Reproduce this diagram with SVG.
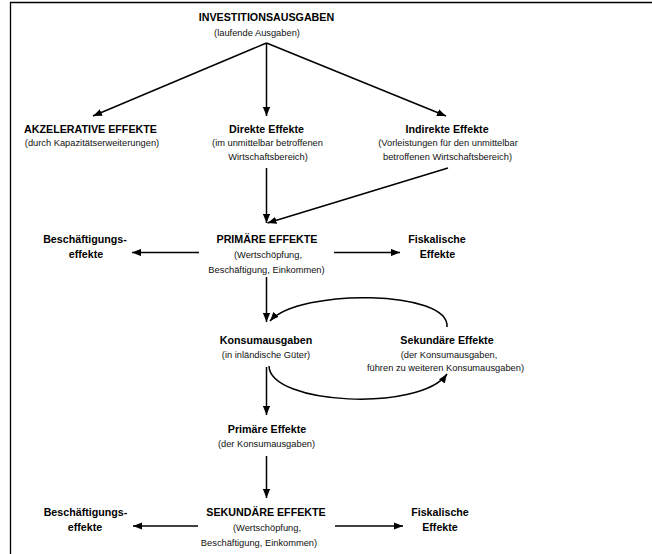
<svg xmlns="http://www.w3.org/2000/svg" width="652" height="554" viewBox="0 0 652 554">
<style>
text{font-family:"Liberation Sans",Arial,sans-serif;text-anchor:middle;fill:#000}
.b{font-weight:bold;font-size:10.7px}
.s{font-size:9.3px;fill:#111}
.c{fill:none;stroke:#000;stroke-width:1.5}
</style>
<defs>
<marker id="ah" viewBox="0 0 10 8" refX="10" refY="4" markerWidth="9" markerHeight="7.5" markerUnits="userSpaceOnUse" orient="auto">
<path d="M0,0 L10,4 L0,8 z" fill="#000"/>
</marker>
</defs>
<rect width="652" height="554" fill="#fff"/>
<path d="M10.5,554 V2.5 H652" fill="none" stroke="#000" stroke-width="1.3"/>

<g id="investition"><text class="b" x="266.5" y="20.5">INVESTITIONSAUSGABEN</text><text class="s" x="257" y="35.5">(laufende Ausgaben)</text></g>
<g id="akzelerativ"><text class="b" x="90.5" y="133">AKZELERATIVE EFFEKTE</text><text class="s" x="92" y="145.5">(durch Kapazitätserweiterungen)</text></g>
<g id="direkt"><text class="b" x="266.5" y="133">Direkte Effekte</text><text class="s" x="267.5" y="145.5">(im unmittelbar betroffenen</text><text class="s" x="268" y="160">Wirtschaftsbereich)</text></g>
<g id="indirekt"><text class="b" x="447" y="133">Indirekte Effekte</text><text class="s" x="448" y="145.5">(Vorleistungen für den unmittelbar</text><text class="s" x="447.5" y="160">betroffenen Wirtschaftsbereich)</text></g>
<g id="besch1"><text class="b" x="85" y="243">Beschäftigungs-</text><text class="b" x="86" y="258">effekte</text></g>
<g id="primaer"><text class="b" x="267" y="243">PRIMÄRE EFFEKTE</text><text class="s" x="268" y="258">(Wertschöpfung,</text><text class="s" x="266.5" y="273">Beschäftigung,  Einkommen)</text></g>
<g id="fiskal1"><text class="b" x="437" y="243">Fiskalische</text><text class="b" x="437.5" y="258">Effekte</text></g>
<g id="konsum"><text class="b" x="266" y="344">Konsumausgaben</text><text class="s" x="266" y="357.5">(in inländische Güter)</text></g>
<g id="sekundaerK"><text class="b" x="447" y="344">Sekundäre Effekte</text><text class="s" x="449" y="357.5">(der Konsumausgaben,</text><text class="s" x="445.5" y="371">führen zu weiteren Konsumausgaben)</text></g>
<g id="primaerK"><text class="b" x="267" y="433">Primäre Effekte</text><text class="s" x="266.5" y="447">(der Konsumausgaben)</text></g>
<g id="besch2"><text class="b" x="85.5" y="516">Beschäftigungs-</text><text class="b" x="85" y="531">effekte</text></g>
<g id="sekundaer"><text class="b" x="266" y="516">SEKUNDÄRE EFFEKTE</text><text class="s" x="267" y="531">(Wertschöpfung,</text><text class="s" x="259" y="546">Beschäftigung, Einkommen)</text></g>
<g id="fiskal2"><text class="b" x="440" y="516">Fiskalische</text><text class="b" x="440" y="531">Effekte</text></g>

<g id="connectors" class="c" marker-end="url(#ah)">
<path class="c" d="M266.5,43 L93,116" marker-end="url(#ah)"/>
<path class="c" d="M266.5,43 V116" marker-end="url(#ah)"/>
<path class="c" d="M266.5,43 L446,116" marker-end="url(#ah)"/>
<path class="c" d="M266.5,168 V223" marker-end="url(#ah)"/>
<path class="c" d="M448,168 L267.5,223" marker-end="url(#ah)"/>
<path class="c" d="M199,252.5 H132" marker-end="url(#ah)"/>
<path class="c" d="M334,252.5 H400" marker-end="url(#ah)"/>
<path class="c" d="M266.5,277 V322" marker-end="url(#ah)"/>
<path class="c" d="M447,327 C450,290 300,288 270,321" marker-end="url(#ah)"/>
<path class="c" d="M269,366 C270,405 420,412 447,374" marker-end="url(#ah)"/>
<path class="c" d="M266.5,367 V415" marker-end="url(#ah)"/>
<path class="c" d="M266.5,456 V498" marker-end="url(#ah)"/>
<path class="c" d="M198,526 H133" marker-end="url(#ah)"/>
<path class="c" d="M335,526 H403" marker-end="url(#ah)"/>
</g>
</svg>
